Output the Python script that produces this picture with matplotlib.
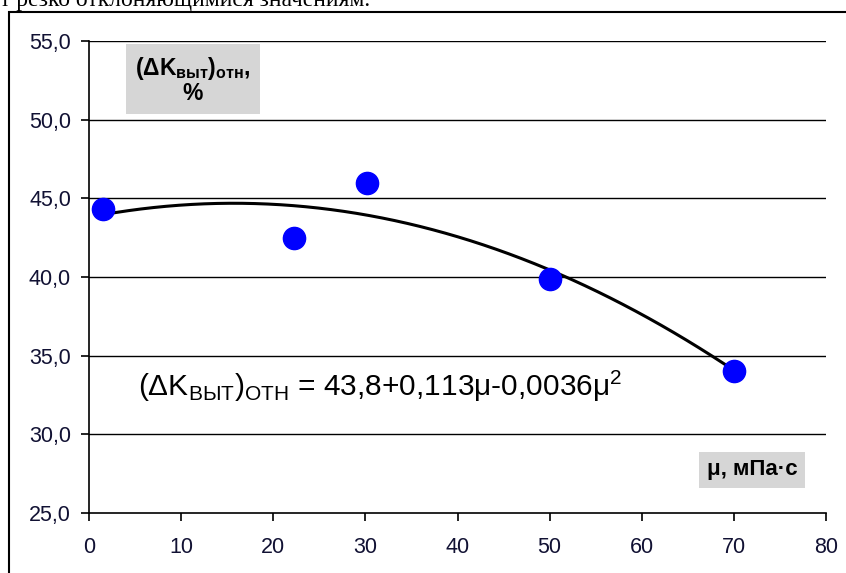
import numpy as np
import matplotlib
matplotlib.use('Agg')
import matplotlib.pyplot as plt
from matplotlib.patches import Rectangle

plt.rcParams['font.family'] = ['Liberation Sans', 'DejaVu Sans']
plt.rcParams['mathtext.fontset'] = 'custom'
plt.rcParams['mathtext.rm'] = 'Liberation Sans'
plt.rcParams['mathtext.it'] = 'Liberation Sans'
plt.rcParams['mathtext.bf'] = 'Liberation Sans:bold'

# data
MU = [1.5, 22.3, 30.2, 50.0, 70.0]
DK = [44.3, 42.5, 46.0, 39.9, 34.0]
# trend polynomial coefficients as printed: 43,8 + 0,113*mu - 0,0036*mu^2
COEF = [-0.0036, 0.113, 43.8]
X_TICKS = [0, 10, 20, 30, 40, 50, 60, 70, 80]
Y_TICKS = [25, 30, 35, 40, 45, 50, 55]

fig = plt.figure(figsize=(8.46, 5.73), dpi=100)

# clipped line of page text above the chart
fig.text(0.0, 1 - 6 / 573, 'т резко отклоняющимися значениям.',
         family='Liberation Serif', fontsize=17, va='baseline', ha='left')

# outer chart frame
fig.patches.append(Rectangle((9 / 846, -0.1), 1.0, 1 - 12 / 573 + 0.1,
                             transform=fig.transFigure, fill=False,
                             edgecolor='black', linewidth=1.5))

ax = fig.add_axes([89 / 846, 1 - 513 / 573, (826 - 89) / 846, (513 - 41) / 573])
ax.set_xlim(0, 80)
ax.set_ylim(25, 55)

for y in Y_TICKS[1:]:
    ax.axhline(y, color='black', linewidth=1.0, zorder=1)

xs = np.linspace(MU[0], MU[-1], 200)
ax.plot(xs, np.polyval(COEF, xs), color='black', linewidth=2.2, zorder=2)
ax.plot(MU, DK, 'o', color='#0000ff', markersize=16, zorder=3)

ax.spines['top'].set_visible(False)
ax.spines['right'].set_visible(False)
ax.spines['left'].set_linewidth(1.2)
ax.spines['bottom'].set_linewidth(1.2)

ax.set_xticks(X_TICKS)
ax.set_yticks(Y_TICKS)
ax.set_xticklabels([str(v) for v in X_TICKS])
ax.set_yticklabels([('%.1f' % v).replace('.', ',') for v in Y_TICKS])
ax.tick_params(direction='out', length=6, width=1.2, labelsize=15.5,
               labelcolor='#111133')
ax.tick_params(axis='x', pad=11)
ax.tick_params(axis='y', pad=7)

fig.text(193 / 846, 1 - 80 / 573,
         '(ΔK$_{\\mathbf{выт}}$)$_{\\mathbf{отн}}$,\n%',
         ha='center', va='center', fontsize=16.5, fontweight='bold',
         linespacing=1.0, bbox=dict(boxstyle='square,pad=0.4',
                                    facecolor='#d6d6d6', edgecolor='none'))
fig.text(752 / 846, 1 - 470 / 573, 'μ, мПа·с', ha='center', va='center',
         fontsize=16, fontweight='bold',
         bbox=dict(boxstyle='square,pad=0.35', facecolor='#d6d6d6',
                   edgecolor='none'))

fig.text(138 / 846, 1 - 386 / 573,
         '(ΔK$_{\\mathrm{ВЫТ}}$)$_{\\mathrm{ОТН}}$ = 43,8+0,113μ-0,0036μ$^{2}$',
         ha='left', va='center', fontsize=21.5)

fig.savefig('out.png', dpi=100)
